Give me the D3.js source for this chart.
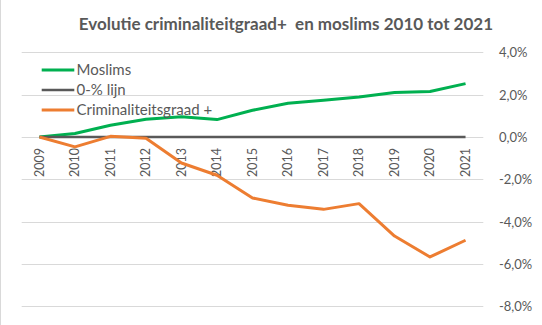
<!DOCTYPE html>
<html>
<head>
<meta charset="utf-8">
<script src="https://cdn.jsdelivr.net/npm/d3@7"></script>
<style>
  html, body { margin: 0; padding: 0; background: #fff; }
  svg { display: block; font-family: Lato, "Open Sans", sans-serif; }
</style>
</head>
<body>
<svg id="chart" width="542" height="325"></svg>
<script>
const years = ["2009","2010","2011","2012","2013","2014","2015","2016","2017","2018","2019","2020","2021"];
const moslims = [0, 0.16, 0.55, 0.84, 0.95, 0.82, 1.26, 1.59, 1.73, 1.89, 2.10, 2.15, 2.52];
const nulLijn = [0, 0, 0, 0, 0, 0, 0, 0, 0, 0, 0, 0, 0];
const criminaliteit = [0, -0.47, 0.03, -0.06, -1.23, -1.81, -2.88, -3.23, -3.42, -3.15, -4.68, -5.67, -4.88];
const yTicks = [-8, -6, -4, -2, 0, 2, 4];
const seriesNames = ["Moslims", "0-% lijn", "Criminaliteitsgraad +"];
const titleText = "Evolutie criminaliteitgraad+  en moslims 2010 tot 2021";

const colors = ["#00B050", "#595959", "#ED7D31"];
const widths = [3, 2.5, 3];
const textColor = "#595959";

const svg = d3.select("#chart");

// frame (left edge)
svg.append("line").attr("x1", 0.5).attr("x2", 0.5).attr("y1", 0).attr("y2", 325)
  .attr("stroke", "#d9d9d9").attr("stroke-width", 1);

const x = d3.scaleBand().domain(years).range([21.7, 483.3]);
const y = d3.scaleLinear().domain([-8, 4]).range([306.3, 52.3]);
const xc = d => x(d) + x.bandwidth() / 2;

// gridlines
svg.append("g").selectAll("line").data(yTicks).join("line")
  .attr("x1", 21.7).attr("x2", 483.3)
  .attr("y1", d => Math.round(y(d)) + 0.5).attr("y2", d => Math.round(y(d)) + 0.5)
  .attr("stroke", "#d9d9d9").attr("stroke-width", 1);

// right axis labels (left-aligned, as in the original)
const fmt = v => d3.format(".1f")(v).replace(".", ",").replace("−", "-") + "%";
const yAxis = d3.axisRight(y).tickValues(yTicks).tickSize(0).tickPadding(0).tickFormat(fmt);
const gy = svg.append("g").attr("transform", "translate(499,0)").call(yAxis);
gy.select(".domain").remove();
gy.selectAll("text").attr("text-anchor", "start").attr("x", 0).attr("dy", "0.35em")
  .attr("fill", textColor).style("font-size", "13px").style("font-family", "Lato, sans-serif");

// x axis labels (rotated)
const xAxis = d3.axisBottom(x).tickSize(0).tickPadding(0);
const gx = svg.append("g").attr("transform", "translate(0,148)").call(xAxis);
gx.select(".domain").remove();
gx.selectAll("text")
  .attr("transform", "rotate(-90)")
  .attr("text-anchor", "end")
  .attr("x", 0).attr("y", 0).attr("dy", "0.35em")
  .attr("fill", textColor).style("font-size", "12.5px").style("font-family", "Lato, sans-serif");

// series
const allSeries = [moslims, nulLijn, criminaliteit];
const line = d3.line().x((d, i) => xc(years[i])).y(d => y(d));
allSeries.forEach((s, k) => {
  svg.append("path").datum(s)
    .attr("d", line)
    .attr("fill", "none")
    .attr("stroke", colors[k])
    .attr("stroke-width", widths[k])
    .attr("stroke-linejoin", "round")
    .attr("stroke-linecap", "butt");
});

// legend
const legY = [70, 90, 110];
const lg = svg.append("g");
seriesNames.forEach((n, k) => {
  lg.append("line").attr("x1", 41.7).attr("x2", 74.3).attr("y1", legY[k]).attr("y2", legY[k])
    .attr("stroke", colors[k]).attr("stroke-width", widths[k]);
  lg.append("text").attr("x", 76.5).attr("y", legY[k]).attr("dy", "0.35em")
    .attr("fill", textColor).style("font-size", "15px").text(n);
});

// title
svg.append("text").attr("x", 285.9).attr("y", 30).attr("text-anchor", "middle")
  .attr("fill", textColor).style("font-size", "17px").style("font-weight", "bold")
  .style("white-space", "pre").attr("xml:space", "preserve")
  .text(titleText);
</script>
</body>
</html>
